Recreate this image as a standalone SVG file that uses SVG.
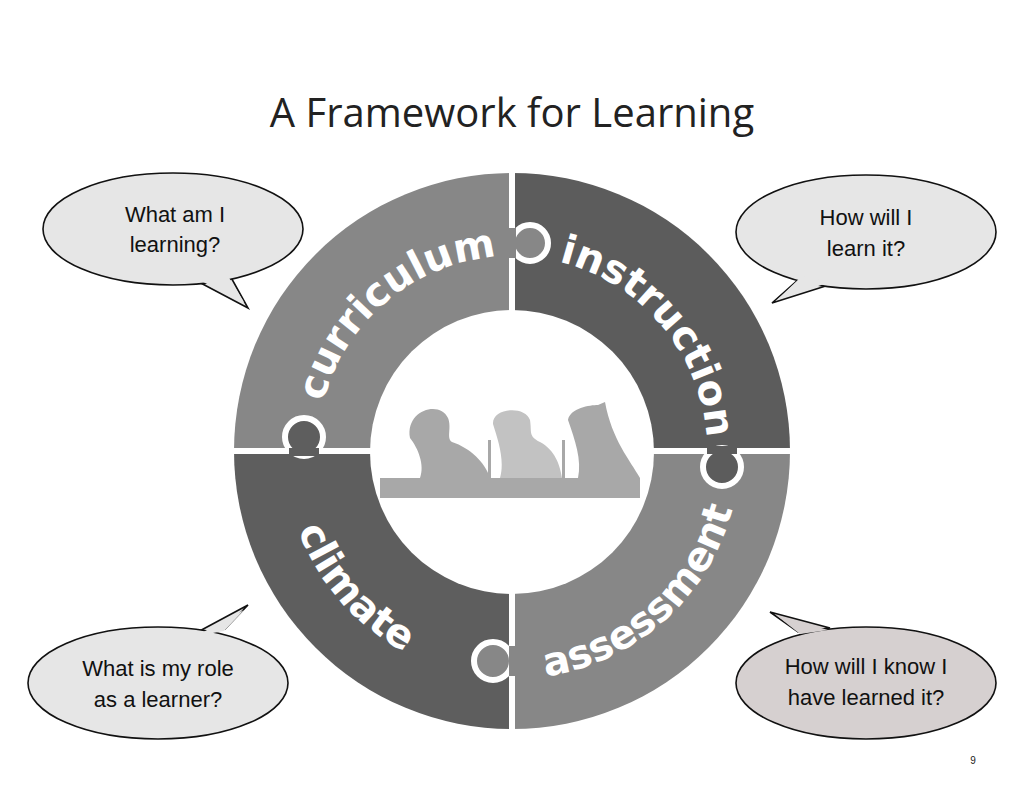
<svg xmlns="http://www.w3.org/2000/svg" width="1024" height="791" viewBox="0 0 1024 791">
<style>
.b{stroke:#111;stroke-width:1.6}
.q{font-family:"Liberation Sans",Arial,sans-serif;font-size:22px;fill:#111;text-anchor:middle}
.r{font-family:"DejaVu Sans",sans-serif;font-weight:bold;font-size:40px;fill:#fff;text-anchor:middle}
.k{stroke:#fff;stroke-width:6}
</style>
<defs>
<path id="top" d="M 317 451 A 195 195 0 0 1 707 451"/>
<path id="bot" d="M 284 451 A 228 228 0 0 0 740 451"/>
</defs>
<rect width="1024" height="791" fill="#fff"/>
<text x="512" y="127" font-family="'Open Sans',sans-serif" font-size="40" fill="#222" text-anchor="middle">A Framework for Learning</text>
<g id="ring">
<path d="M512 451 L234 451 A278 278 0 0 1 512 173 Z" fill="#878787"/>
<path d="M512 451 L512 173 A278 278 0 0 1 790 451 Z" fill="#5c5c5c"/>
<path d="M512 451 L790 451 A278 278 0 0 1 512 729 Z" fill="#878787"/>
<path d="M512 451 L512 729 A278 278 0 0 1 234 451 Z" fill="#5e5e5e"/>
<line x1="512" y1="170" x2="512" y2="732" stroke="#fff" stroke-width="6"/>
<line x1="230" y1="451" x2="794" y2="451" stroke="#fff" stroke-width="6"/>
<circle cx="530" cy="243" r="18" fill="#878787" class="k"/>
<rect x="508" y="228" width="8" height="30" fill="#878787"/>
<circle cx="304" cy="437" r="19" fill="#5e5e5e" class="k"/>
<rect x="289" y="448" width="30" height="8" fill="#5e5e5e"/>
<circle cx="722" cy="467" r="19" fill="#5c5c5c" class="k"/>
<rect x="707" y="446" width="30" height="8" fill="#5c5c5c"/>
<circle cx="493" cy="661" r="19" fill="#878787" class="k"/>
<rect x="509" y="646" width="8" height="30" fill="#878787"/>
<circle cx="512" cy="452" r="142" fill="#fff"/>
</g>
<g id="labels">
<text class="r"><textPath href="#top" startOffset="27.8%">curriculum</textPath></text>
<text class="r"><textPath href="#top" startOffset="77.8%">instruction</textPath></text>
<text class="r"><textPath href="#bot" startOffset="22.8%">climate</textPath></text>
<text class="r"><textPath href="#bot" startOffset="73.3%">assessment</textPath></text>
</g>
<g id="students" fill="#a8a8a8">
<rect x="380" y="478" width="260" height="20"/>
<path d="M410 438 C405 410 440 400 448 418 C452 428 446 438 452 442 C470 448 485 462 490 478 L420 478 C425 465 418 448 410 438 Z"/>
<path d="M493 424 C492 408 525 405 530 420 C532 432 528 436 540 442 C555 450 560 465 562 478 L500 478 C505 460 498 440 493 424 Z" fill="#c2c2c2"/>
<path d="M568 420 C570 408 590 405 598 405 L605 402 C612 440 630 460 640 478 L578 478 C582 460 575 440 568 420 Z"/>
<rect x="488" y="440" width="3" height="40"/>
<rect x="562" y="440" width="3" height="40"/>
</g>
<g id="bubble-tl">
<polygon points="195,280 228,272 248,308" fill="#e6e6e6" class="b"/>
<ellipse cx="173" cy="229" rx="130" ry="56" fill="#e6e6e6" class="b"/>
<polygon points="197,279 226,273 244,302" fill="#e6e6e6"/>
<text class="q" x="175" y="222">What am I</text><text class="q" x="175" y="252">learning?</text>
</g>
<g id="bubble-tr">
<polygon points="800,278 832,284 772,303" fill="#e6e6e6" class="b"/>
<ellipse cx="866" cy="232" rx="130" ry="57" fill="#e6e6e6" class="b"/>
<polygon points="802,276 830,282 777,300" fill="#e6e6e6"/>
<text class="q" x="866" y="225">How will I</text><text class="q" x="866" y="256">learn it?</text>
</g>
<g id="bubble-bl">
<polygon points="194,634 225,629 248,605" fill="#e6e6e6" class="b"/>
<ellipse cx="158" cy="683" rx="130" ry="56" fill="#e6e6e6" class="b"/>
<polygon points="196,636 224,631 244,610" fill="#e6e6e6"/>
<text class="q" x="158" y="676">What is my role</text><text class="q" x="158" y="707">as a learner?</text>
</g>
<g id="bubble-br">
<polygon points="798,632 830,628 770,612" fill="#d6d0d0" class="b"/>
<ellipse cx="866" cy="683" rx="130" ry="56" fill="#d6d0d0" class="b"/>
<polygon points="800,634 828,630 776,615" fill="#d6d0d0"/>
<text class="q" x="866" y="674">How will I know I</text><text class="q" x="866" y="705">have learned it?</text>
</g>
<text x="973" y="764" font-family="'Liberation Sans',sans-serif" font-size="10" fill="#222" text-anchor="middle">9</text>
</svg>
